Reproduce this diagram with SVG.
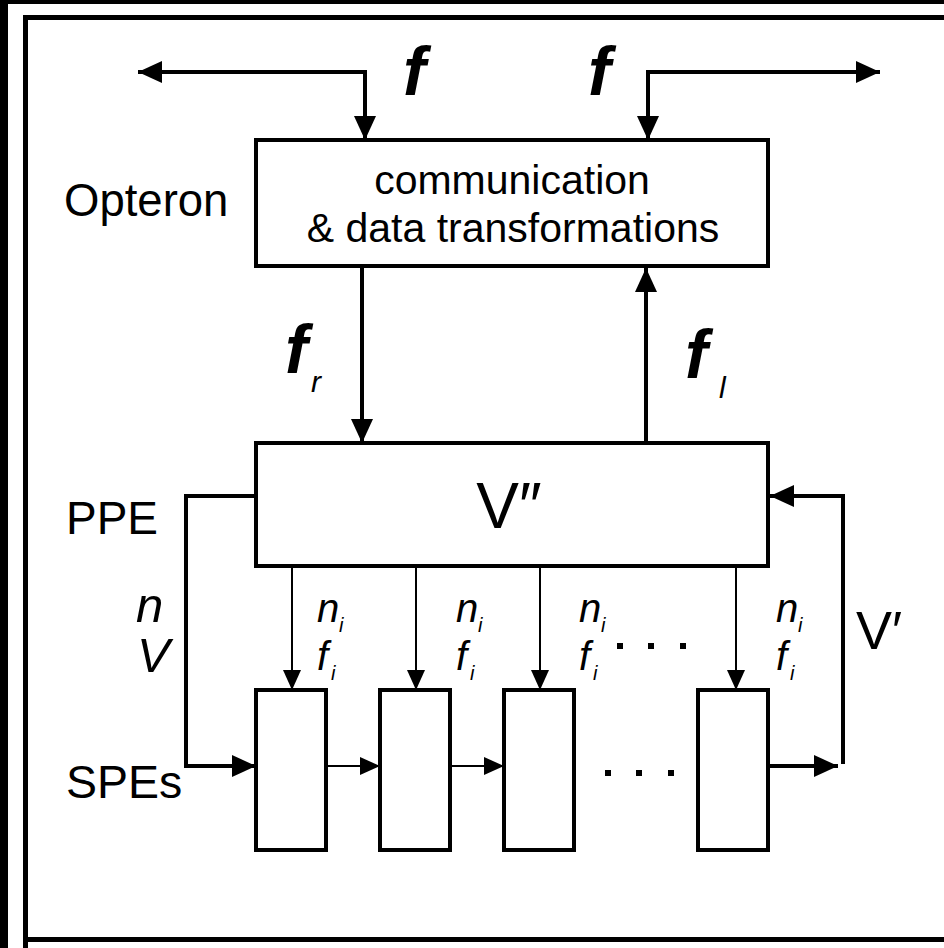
<svg xmlns="http://www.w3.org/2000/svg" width="944" height="948" viewBox="0 0 944 948">
<style>
.box{fill:#fff;stroke:#000;stroke-width:4}
.thick{fill:none;stroke:#000;stroke-width:4}
.thin{fill:none;stroke:#000;stroke-width:2}
.lbl{font-family:"Liberation Sans",Arial,sans-serif;fill:#000}
.it{font-family:"Liberation Sans",Arial,sans-serif;font-style:italic;fill:#000}
.bi{font-family:"Liberation Sans",Arial,sans-serif;font-style:italic;font-weight:bold;fill:#000}
</style>
<defs>
<marker id="ah" markerUnits="userSpaceOnUse" markerWidth="26" markerHeight="22" refX="24" refY="11" orient="auto-start-reverse"><path d="M0,0 L24,11 L0,22 z" fill="#000"/></marker>
<marker id="ahs" markerUnits="userSpaceOnUse" markerWidth="22" markerHeight="18" refX="20" refY="9" orient="auto"><path d="M0,0 L20,9 L0,18 z" fill="#000"/></marker>
</defs>
<rect x="0" y="0" width="944" height="948" fill="#000"/>
<rect x="8" y="4" width="936" height="944" fill="#fff"/>
<path d="M25.5 1000 V17.5 H1000 M25.5 939.5 H1000" fill="none" stroke="#000" stroke-width="5"/>

<g id="connectors">
<path class="thick" d="M138,72 H365 V140" marker-start="url(#ah)" marker-end="url(#ah)"/>
<path class="thick" d="M880,72 H648 V140" marker-start="url(#ah)" marker-end="url(#ah)"/>
<path class="thick" d="M362,266 V443" marker-end="url(#ah)"/>
<path class="thick" d="M646,443 V268" marker-end="url(#ah)"/>
<path class="thick" d="M256,496 H186 V766 H256" marker-end="url(#ah)"/>
<path class="thick" d="M768,766 H838" marker-end="url(#ah)"/>
<path class="thick" d="M843,764 V496 H770" marker-end="url(#ah)"/>
<path class="thin" d="M292,566 V690" marker-end="url(#ahs)"/>
<path class="thin" d="M416,566 V690" marker-end="url(#ahs)"/>
<path class="thin" d="M540,566 V690" marker-end="url(#ahs)"/>
<path class="thin" d="M736,566 V690" marker-end="url(#ahs)"/>
<path class="thin" d="M326,766 H380" marker-end="url(#ahs)"/>
<path class="thin" d="M450,766 H504" marker-end="url(#ahs)"/>
</g>

<g id="labels">
<text class="bi" x="403" y="95" font-size="68">f</text>
<text class="bi" x="588" y="95" font-size="68">f</text>
<text class="bi" x="285" y="373" font-size="68">f</text>
<text class="it" x="311" y="392" font-size="30">r</text>
<text class="bi" x="685" y="378" font-size="68">f</text>
<text class="it" x="719" y="398" font-size="30">l</text>
<text class="lbl" x="64" y="216" font-size="45.5">Opteron</text>
<text class="lbl" x="66" y="534" font-size="46">PPE</text>
<text class="lbl" x="66" y="798" font-size="46.5">SPEs</text>
<text class="it" x="136" y="622" font-size="49">n</text>
<text class="it" x="137" y="672" font-size="49">V</text>
<text class="lbl" x="856" y="649" font-size="54">V′</text>
<g class="it" font-size="40">
<text x="317" y="622">n</text><text x="339" y="632" font-size="20">i</text>
<text x="317" y="670">f</text><text x="331" y="680" font-size="20">i</text>
<text x="456" y="622">n</text><text x="478" y="632" font-size="20">i</text>
<text x="456" y="670">f</text><text x="470" y="680" font-size="20">i</text>
<text x="579" y="622">n</text><text x="601" y="632" font-size="20">i</text>
<text x="579" y="670">f</text><text x="593" y="680" font-size="20">i</text>
<text x="776" y="622">n</text><text x="798" y="632" font-size="20">i</text>
<text x="776" y="670">f</text><text x="790" y="680" font-size="20">i</text>
</g>
<g fill="#000">
<rect x="617" y="643" width="6" height="6"/><rect x="648" y="643" width="6" height="6"/><rect x="680" y="643" width="6" height="6"/>
<rect x="605" y="770" width="6" height="6"/><rect x="636" y="770" width="6" height="6"/><rect x="668" y="770" width="6" height="6"/>
</g>
</g>

<g id="opteron-box">
<rect class="box" x="256" y="140" width="512" height="126"/>
<text class="lbl" x="512" y="194" font-size="41" text-anchor="middle">communication</text>
<text class="lbl" x="513" y="242" font-size="41" text-anchor="middle">&amp; data transformations</text>
</g>
<g id="ppe-box">
<rect class="box" x="256" y="443" width="512" height="123"/>
<text class="lbl" x="509" y="528" font-size="64" text-anchor="middle">V″</text>
</g>
<g id="spe1"><rect class="box" x="256" y="690" width="70" height="160"/></g>
<g id="spe2"><rect class="box" x="380" y="690" width="70" height="160"/></g>
<g id="spe3"><rect class="box" x="504" y="690" width="70" height="160"/></g>
<g id="spe4"><rect class="box" x="698" y="690" width="70" height="160"/></g>
</svg>
